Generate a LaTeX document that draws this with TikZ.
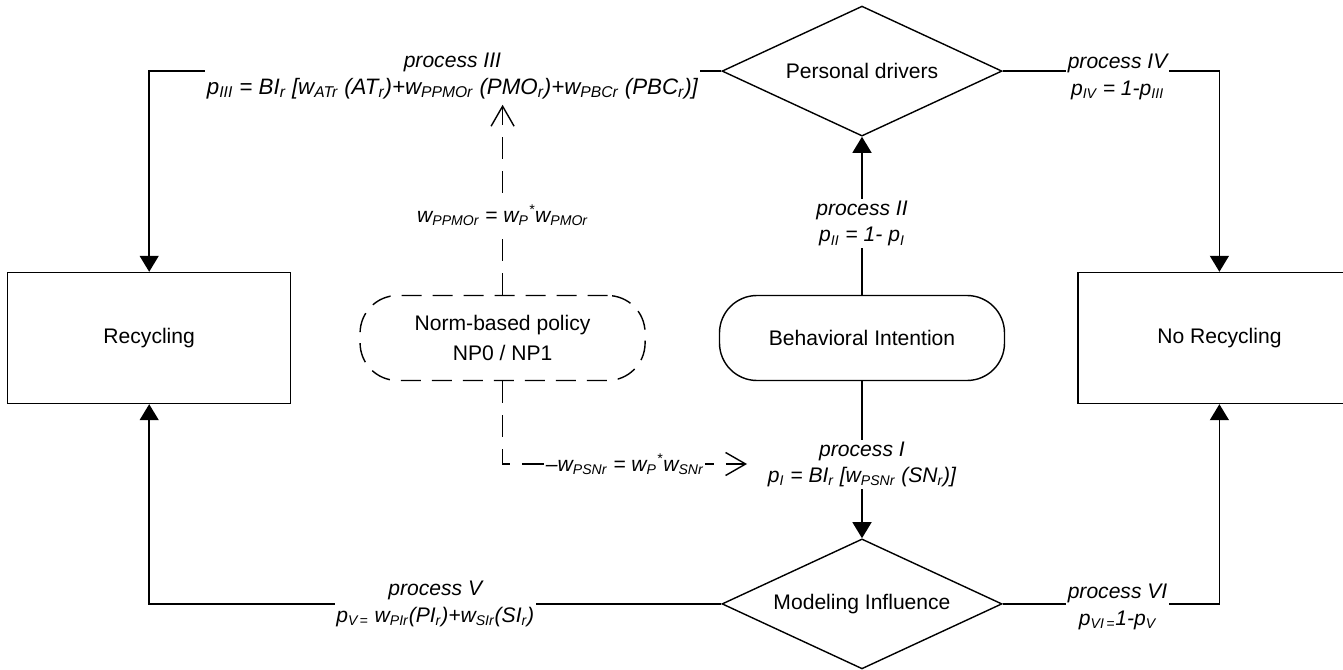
\documentclass[tikz,border=0pt]{standalone}
\usepackage{fontspec}
\setmainfont{Liberation Sans}
\usetikzlibrary{positioning,shapes.geometric,arrows.meta}
\newcommand{\sbs}[1]{\textsubscript{#1}}

\begin{document}
\begin{tikzpicture}[
    node distance=0cm,
    line width=0.8pt,
    every node/.style={font=\fontsize{12}{14.5}\selectfont},
    state/.style={draw, minimum width=5.66cm, minimum height=2.62cm},
    driver/.style={draw, diamond, aspect=2.15, inner sep=0pt, minimum width=5.6cm, minimum height=2.6cm},
    intent/.style={draw, rounded corners=0.75cm, minimum width=5.7cm, minimum height=1.7cm, align=center},
    policy/.style={intent, dash pattern=on 0.4cm off 0.22cm, font=\fontsize{12}{17}\selectfont},
    proc/.style={fill=white, inner sep=1pt, align=center, font=\fontsize{12}{15}\selectfont\itshape},
    flow/.style={-{Triangle[width=0.38cm, length=0.32cm]}},
    effect/.style={dash pattern=on 0.44cm off 0.24cm, -{Straight Barb[width=0.46cm, length=0.4cm]}}
]
    \useasboundingbox (0,0) rectangle (26.86,-13.4);

    \node [intent] (bi) at (17.24,-6.76) {Behavioral Intention};
    \node [driver, above=3.16cm of bi] (pd) {Personal drivers};
    \node [driver, below=3.14cm of bi] (mi) {Modeling Influence};
    \node [policy, left=1.46cm of bi] (np) {Norm-based policy\\NP0 / NP1};
    \node [state, left=1.36cm of np] (rec) {Recycling};
    \node [state, right=1.44cm of bi] (norec) {No Recycling};

    \coordinate [above=3.8cm of np.north] (up);
    \coordinate (tip) at (14.94,-9.28);

    \draw [flow] (bi) -- node [proc, pos=0.45] (p2) {process II\\p\sbs{II} = 1- p\sbs{I}} (pd);
    \draw [flow] (bi) -- node [proc, pos=0.53] (p1) {process I\\p\sbs{I} = BI\sbs{r} [w\sbs{PSNr} (SN\sbs{r})]} (mi);

    \draw [flow] (pd.west) -| node [proc, pos=0.235, yshift=-0.1cm] (p3) {process III\\\fontsize{12.7}{15}\selectfont p\sbs{III} = BI\sbs{r} [w\sbs{ATr} (AT\sbs{r})+w\sbs{PPMOr} (PMO\sbs{r})+w\sbs{PBCr} (PBC\sbs{r})]} (rec.north);
    \draw [flow] (pd.east) -| node [proc, pos=0.265, yshift=-0.12cm] (p4) {process IV\\p\sbs{IV} = 1-p\sbs{III}} (norec.north);
    \draw [flow] (mi.west) -| node [proc, pos=0.25] (p5) {process V\\p\sbs{V\,=} w\sbs{PIr}(PI\sbs{r})+w\sbs{SIr}(SI\sbs{r})} (rec.south);
    \draw [flow] (mi.east) -| node [proc, pos=0.265, yshift=-0.06cm] (p6) {process VI\\p\sbs{VI\,=}1-p\sbs{V}} (norec.south);

    \draw [effect] (np) -- node [proc, pos=0.42] (wpm) {w\sbs{PPMOr} = w\sbs{P}\textsuperscript{*}w\sbs{PMOr}} (up);
    \draw [effect] (np) |- node [proc, pos=0.75] (wps) {--w\sbs{PSNr} = w\sbs{P}\textsuperscript{*}w\sbs{SNr}} (tip);
\end{tikzpicture}
\end{document}
